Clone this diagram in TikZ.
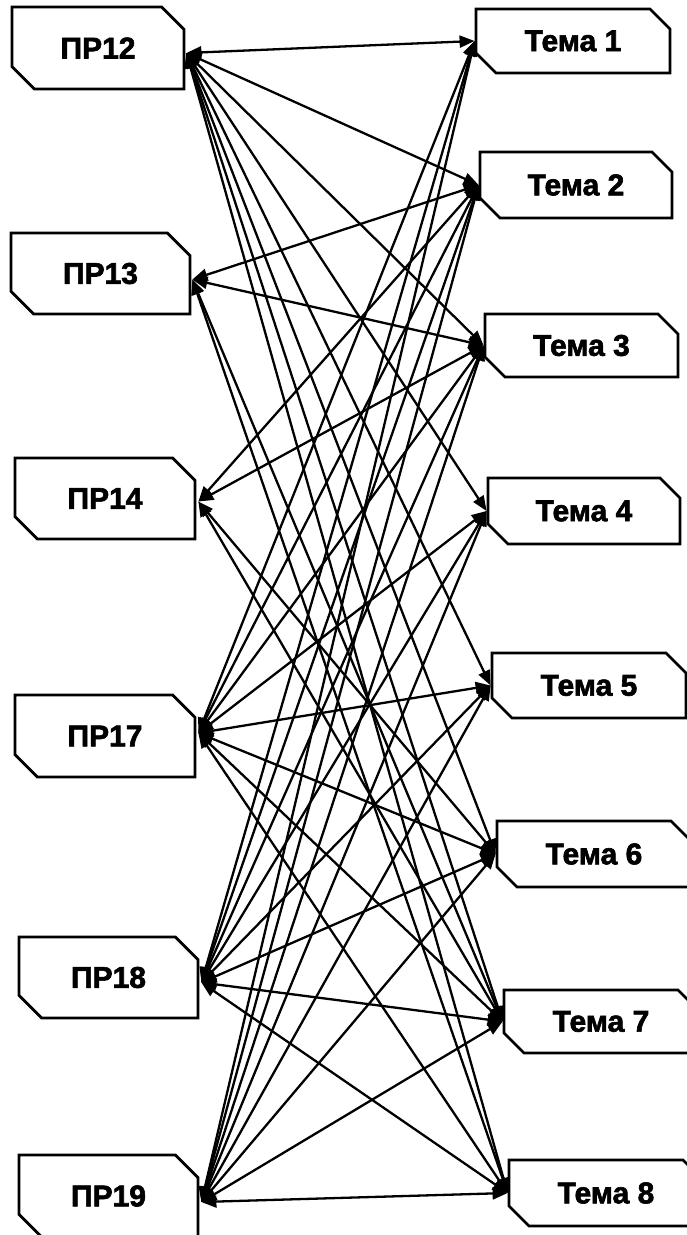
\documentclass[tikz,border=0pt]{standalone}
\usepackage{fontspec}
\setmainfont{Liberation Sans}[BoldFeatures={FakeBold=2}]
\usetikzlibrary{shapes.misc,arrows.meta,calc}
\begin{document}
\begin{tikzpicture}[x=1pt,y=-1pt,
  snip/.style={chamfered rectangle, chamfered rectangle corners={north east,south west},
    draw, line width=2.8pt, fill=white, inner sep=0pt,
    font=\fontsize{30}{30}\selectfont\bfseries},
  boxL/.style={snip, chamfered rectangle xsep=12pt, chamfered rectangle ysep=12pt},
  boxR/.style={snip, chamfered rectangle xsep=10pt, chamfered rectangle ysep=10pt},
  link/.style={line width=2.3pt, {Triangle[length=15pt,width=12pt]}-{Triangle[length=15pt,width=12pt]}}]
\useasboundingbox (0,0) rectangle (687,1235);
\clip (0,0) rectangle (687,1235);
% left boxes
\node[boxL, minimum width=172pt, minimum height=82pt] (p12) at (98,48) {ПР12};
\node[boxL, minimum width=179pt, minimum height=81pt] (p13) at (100.5,273.5) {ПР13};
\node[boxL, minimum width=180pt, minimum height=81pt] (p14) at (105,498.5) {ПР14};
\node[boxL, minimum width=180pt, minimum height=82pt] (p17) at (105,736) {ПР17};
\node[boxL, minimum width=179pt, minimum height=81pt] (p18) at (108.5,977.5) {ПР18};
\node[boxL, minimum width=179pt, minimum height=82pt] (p19) at (108.5,1196) {ПР19};
% right boxes
\node[boxR, minimum width=194pt, minimum height=64pt] (t1) at (573,41) {Тема 1};
\node[boxR, minimum width=192pt, minimum height=66pt] (t2) at (576,185) {Тема 2};
\node[boxR, minimum width=193pt, minimum height=63pt] (t3) at (581.5,345.5) {Тема 3};
\node[boxR, minimum width=192pt, minimum height=66pt] (t4) at (584,511) {Тема 4};
\node[boxR, minimum width=194pt, minimum height=65pt] (t5) at (589,685.5) {Тема 5};
\node[boxR, minimum width=194pt, minimum height=66pt] (t6) at (594,854) {Тема 6};
\node[boxR, minimum width=194pt, minimum height=63pt] (t7) at (601,1021.5) {Тема 7};
\node[boxR, minimum width=194pt, minimum height=66pt] (t8) at (606,1193) {Тема 8};
% anchor points
\coordinate (a12) at ($(p12.east)+(1,5)$);
\coordinate (a13) at ($(p13.east)+(1,6)$);
\coordinate (a14) at ($(p14.east)+(2,3)$);
\coordinate (a17) at ($(p17.east)+(2,-3)$);
\coordinate (a18) at ($(p18.east)+(2,5)$);
\coordinate (a19) at ($(p19.east)+(2,6)$);
\foreach \i in {1,...,8} {\coordinate (b\i) at (t\i.west);}
% connectors
\foreach \j in {1,...,8} {\draw[link] (a12) -- (b\j);}
\foreach \j in {2,3,7,8} {\draw[link] (a13) -- (b\j);}
\foreach \j in {2,3,6,7} {\draw[link] (a14) -- (b\j);}
\foreach \j in {1,...,8} {\draw[link] (a17) -- (b\j);}
\foreach \j in {1,...,8} {\draw[link] (a18) -- (b\j);}
\foreach \j in {1,...,8} {\draw[link] (a19) -- (b\j);}
\end{tikzpicture}
\end{document}
